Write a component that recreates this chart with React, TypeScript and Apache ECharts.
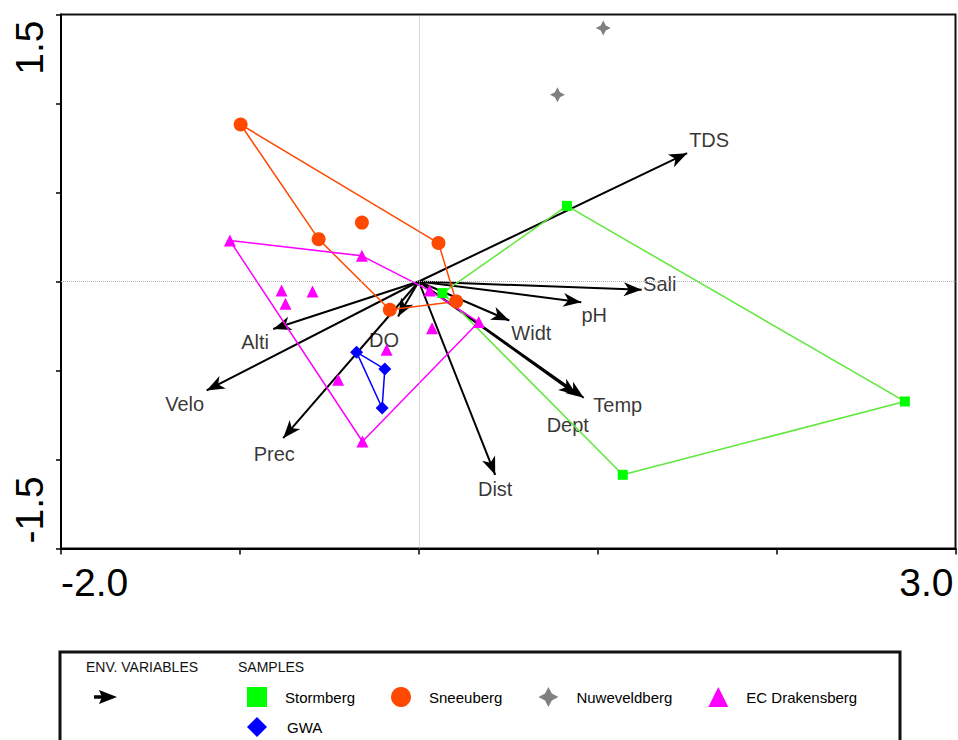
import React, { useEffect, useRef } from 'react';
import * as echarts from 'echarts';

const FONT = '"Liberation Sans", Arial, Helvetica, sans-serif';

// ---- axes ----
const xRange = [-2, 3];
const yRange = [-1.5, 1.5];
const xTickStep = 1;
const yTickStep = 0.5;
const xTickLabels = ['-2.0', '3.0']; // labels shown at the two ends
const yTickLabels = ['-1.5', '1.5'];

// ---- samples (CCA scores) ----
const stormberg: number[][] = [[0.828, 0.425], [2.717, -0.674], [1.14, -1.086], [0.132, -0.065]];
const stormbergHull = [3, 0, 1, 2, 3];
const sneeuberg: number[][] = [[-0.996, 0.882], [-0.56, 0.238], [-0.318, 0.331], [0.11, 0.216], [-0.162, -0.159], [0.209, -0.112]];
const sneeubergHull = [0, 3, 5, 4, 1, 0];
const nuweveldberg: number[][] = [[1.031, 1.424], [0.775, 1.049]];
const drakensberg: number[][] = [
  [-1.056, 0.23], [-0.318, 0.144], [0.061, -0.051], [0.335, -0.228], [-0.315, -0.899],
  [-0.767, -0.051], [-0.594, -0.056], [-0.745, -0.125], [0.074, -0.262], [-0.18, -0.384], [-0.451, -0.552],
];
const drakensbergHull = [0, 1, 2, 3, 4, 0];
const gwa: number[][] = [[-0.348, -0.397], [-0.19, -0.492], [-0.205, -0.711]];
const gwaHull = [0, 1, 2, 0];

// ---- environmental variables (biplot arrows) ----
const arrowOrigin = [0, 0];
const envNames = ['TDS', 'Sali', 'pH', 'Widt', 'Temp', 'Dept', 'Dist', 'Alti', 'Velo', 'Prec', 'DO'];
const envX = [1.5, 1.246, 0.908, 0.506, 0.922, 0.883, 0.427, -0.814, -1.186, -0.758, -0.116];
const envY = [0.721, -0.047, -0.116, -0.219, -0.653, -0.637, -1.086, -0.267, -0.612, -0.88, -0.197];

// ---- styling (label offsets in px from arrow tip) ----
const envLabelOffsets = [
  [22, -13], [18, -6], [13, 13], [22, 13], [34, 7], [-9, 30], [0, 14], [-18, 13], [-22, 14], [-9, 16], [-14, 23],
];

const groupNames = ['Stormberg', 'Sneeuberg', 'Nuweveldberg', 'EC Drakensberg', 'GWA'];
const STAR = 'path://M10,0L13.4,6.6L20,10L13.4,13.4L10,20L6.6,13.4L0,10L6.6,6.6Z';
const ARROW = 'path://M7,0M7,18L14,36L7,31L0,36Z';

const groupStyles = [
  { data: stormberg, hull: stormbergHull, color: '#00FF00', lineColor: '#5EE83A', symbol: 'rect', size: 10, icon: 'rect' },
  { data: sneeuberg, hull: sneeubergHull, color: '#FF4800', lineColor: '#FF4800', symbol: 'circle', size: 14, icon: 'circle' },
  { data: nuweveldberg, hull: null as number[] | null, color: '#808080', lineColor: '#808080', symbol: STAR, size: 15, icon: STAR },
  { data: drakensberg, hull: drakensbergHull, color: '#FF00FF', lineColor: '#FF00FF', symbol: 'triangle', size: 12, icon: 'triangle' },
  { data: gwa, hull: gwaHull, color: '#0000FF', lineColor: '#0000FF', symbol: 'diamond', size: 13, icon: 'diamond' },
];

export default function App() {
  const ref = useRef<HTMLDivElement>(null);

  useEffect(() => {
    if (!ref.current) return;
    const chart = echarts.init(ref.current, undefined, { renderer: 'svg' });

    const hullSeries: any[] = [];
    const pointSeries: any[] = [];
    groupStyles.forEach((g, gi) => {
      if (g.hull) {
        hullSeries.push({
          type: 'line',
          name: groupNames[gi] + ' hull',
          data: g.hull.map((i) => g.data[i]),
          symbol: 'none',
          lineStyle: { color: g.lineColor, width: 1.5 },
          itemStyle: { color: g.lineColor },
          silent: true,
          z: 3,
        });
      }
      pointSeries.push({
        type: 'scatter',
        name: groupNames[gi],
        data: g.data,
        symbol: g.symbol,
        symbolSize: g.size,
        itemStyle: { color: g.color, opacity: 1 },
        silent: true,
        z: 4,
      });
    });

    const xLabelFmt = (v: number) => (v === xRange[0] ? xTickLabels[0] : v === xRange[1] ? xTickLabels[1] : '');
    const yLabelFmt = (v: number) => (v === yRange[0] ? yTickLabels[0] : v === yRange[1] ? yTickLabels[1] : '');

    const option: any = {
      animation: false,
      backgroundColor: '#ffffff',
      textStyle: { fontFamily: FONT },
      grid: {
        left: 61, right: 2.5, top: 14.5, bottom: 191.5,
        show: true, borderColor: '#111', borderWidth: 2, backgroundColor: 'transparent',
        outerBoundsMode: 'none', containLabel: false,
      },
      xAxis: {
        type: 'value', min: xRange[0], max: xRange[1], interval: xTickStep,
        axisLine: { show: true, onZero: false, lineStyle: { color: '#000', width: 2 } },
        axisTick: { show: true, inside: false, length: 6, lineStyle: { color: '#000', width: 1.5 } },
        splitLine: { show: false },
        axisLabel: {
          formatter: xLabelFmt, fontSize: 39, color: '#000', fontFamily: FONT, margin: 14,
          showMinLabel: true, showMaxLabel: true, alignMinLabel: 'left', alignMaxLabel: 'right',
          padding: [0, 2, 0, 0],
        },
      },
      yAxis: {
        type: 'value', min: yRange[0], max: yRange[1], interval: yTickStep,
        axisLine: { show: true, onZero: false, lineStyle: { color: '#000', width: 2 } },
        axisTick: { show: true, inside: false, length: 5, lineStyle: { color: '#000', width: 1.5 } },
        splitLine: { show: false },
        axisLabel: {
          formatter: yLabelFmt, fontSize: 39, color: '#000', fontFamily: FONT, margin: 12, rotate: 90,
          showMinLabel: true, showMaxLabel: true, alignMinLabel: 'left', alignMaxLabel: 'right',
          padding: [0, 6, 0, 5],
        },
      },
      legend: [
        {
          data: groupNames.slice(0, 4).map((n, i) => ({ name: n, icon: groupStyles[i].icon })),
          left: 247, top: 687, padding: 0, orient: 'horizontal',
          itemWidth: 20, itemHeight: 20, itemGap: 36, selectedMode: false,
          textStyle: { fontSize: 15, color: '#000', fontFamily: FONT, padding: [0, 0, 0, 13] },
        },
        {
          data: [{ name: groupNames[4], icon: groupStyles[4].icon }],
          left: 247, top: 717, padding: 0,
          itemWidth: 20, itemHeight: 20, selectedMode: false,
          textStyle: { fontSize: 15, color: '#000', fontFamily: FONT, padding: [0, 0, 0, 15] },
        },
      ],
      graphic: [
        { type: 'rect', shape: { x: 60, y: 652, width: 840, height: 130 }, style: { fill: 'none', stroke: '#111', lineWidth: 3 }, silent: true },
        { type: 'text', x: 86, y: 667, style: { text: 'ENV. VARIABLES', fontSize: 14, fontFamily: FONT, fill: '#111', verticalAlign: 'middle', align: 'left' }, silent: true },
        { type: 'text', x: 238, y: 667, style: { text: 'SAMPLES', fontSize: 14, fontFamily: FONT, fill: '#111', verticalAlign: 'middle', align: 'left' }, silent: true },
        { type: 'line', shape: { x1: 94, y1: 697, x2: 104, y2: 697 }, style: { stroke: '#000', lineWidth: 3.5 }, silent: true },
        { type: 'polygon', shape: { points: [[99, 690], [117, 697], [99, 704], [102, 697]] }, style: { fill: '#000' }, silent: true },
      ],
      series: [
        {
          type: 'line', name: 'zero', data: [], silent: true, z: 1,
          markLine: {
            silent: true, symbol: 'none', label: { show: false },
            lineStyle: { type: 'dotted', color: '#b0b0b0', width: 1 },
            data: [{ xAxis: 0 }, { yAxis: 0 }],
          },
        },
        {
          type: 'lines', name: 'env', coordinateSystem: 'cartesian2d', silent: true, z: 2,
          symbol: ['none', ARROW], symbolSize: [0, [14, 36]],
          lineStyle: { color: '#000', width: 2, opacity: 1, curveness: 0 },
          data: envNames.map((n, i) => ({ name: n, coords: [arrowOrigin, [envX[i], envY[i]]] })),
        },
        {
          type: 'scatter', name: 'env labels', silent: true, z: 2,
          symbolSize: 1, itemStyle: { color: 'rgba(0,0,0,0)' },
          label: {
            show: true, position: 'inside', align: 'center', verticalAlign: 'middle',
            formatter: '{b}', fontSize: 20, color: '#000', fontFamily: FONT,
          },
          data: envNames.map((n, i) => ({ name: n, value: [envX[i], envY[i]], label: { offset: envLabelOffsets[i] } })),
        },
        ...hullSeries,
        ...pointSeries,
      ],
    };
    chart.setOption(option);
    return () => chart.dispose();
  }, []);

  return (
    <div style={{ position: 'fixed', left: 0, top: 0, width: 958, height: 740, background: '#fff' }}>
      <div ref={ref} style={{ width: 958, height: 740 }} />
    </div>
  );
}
